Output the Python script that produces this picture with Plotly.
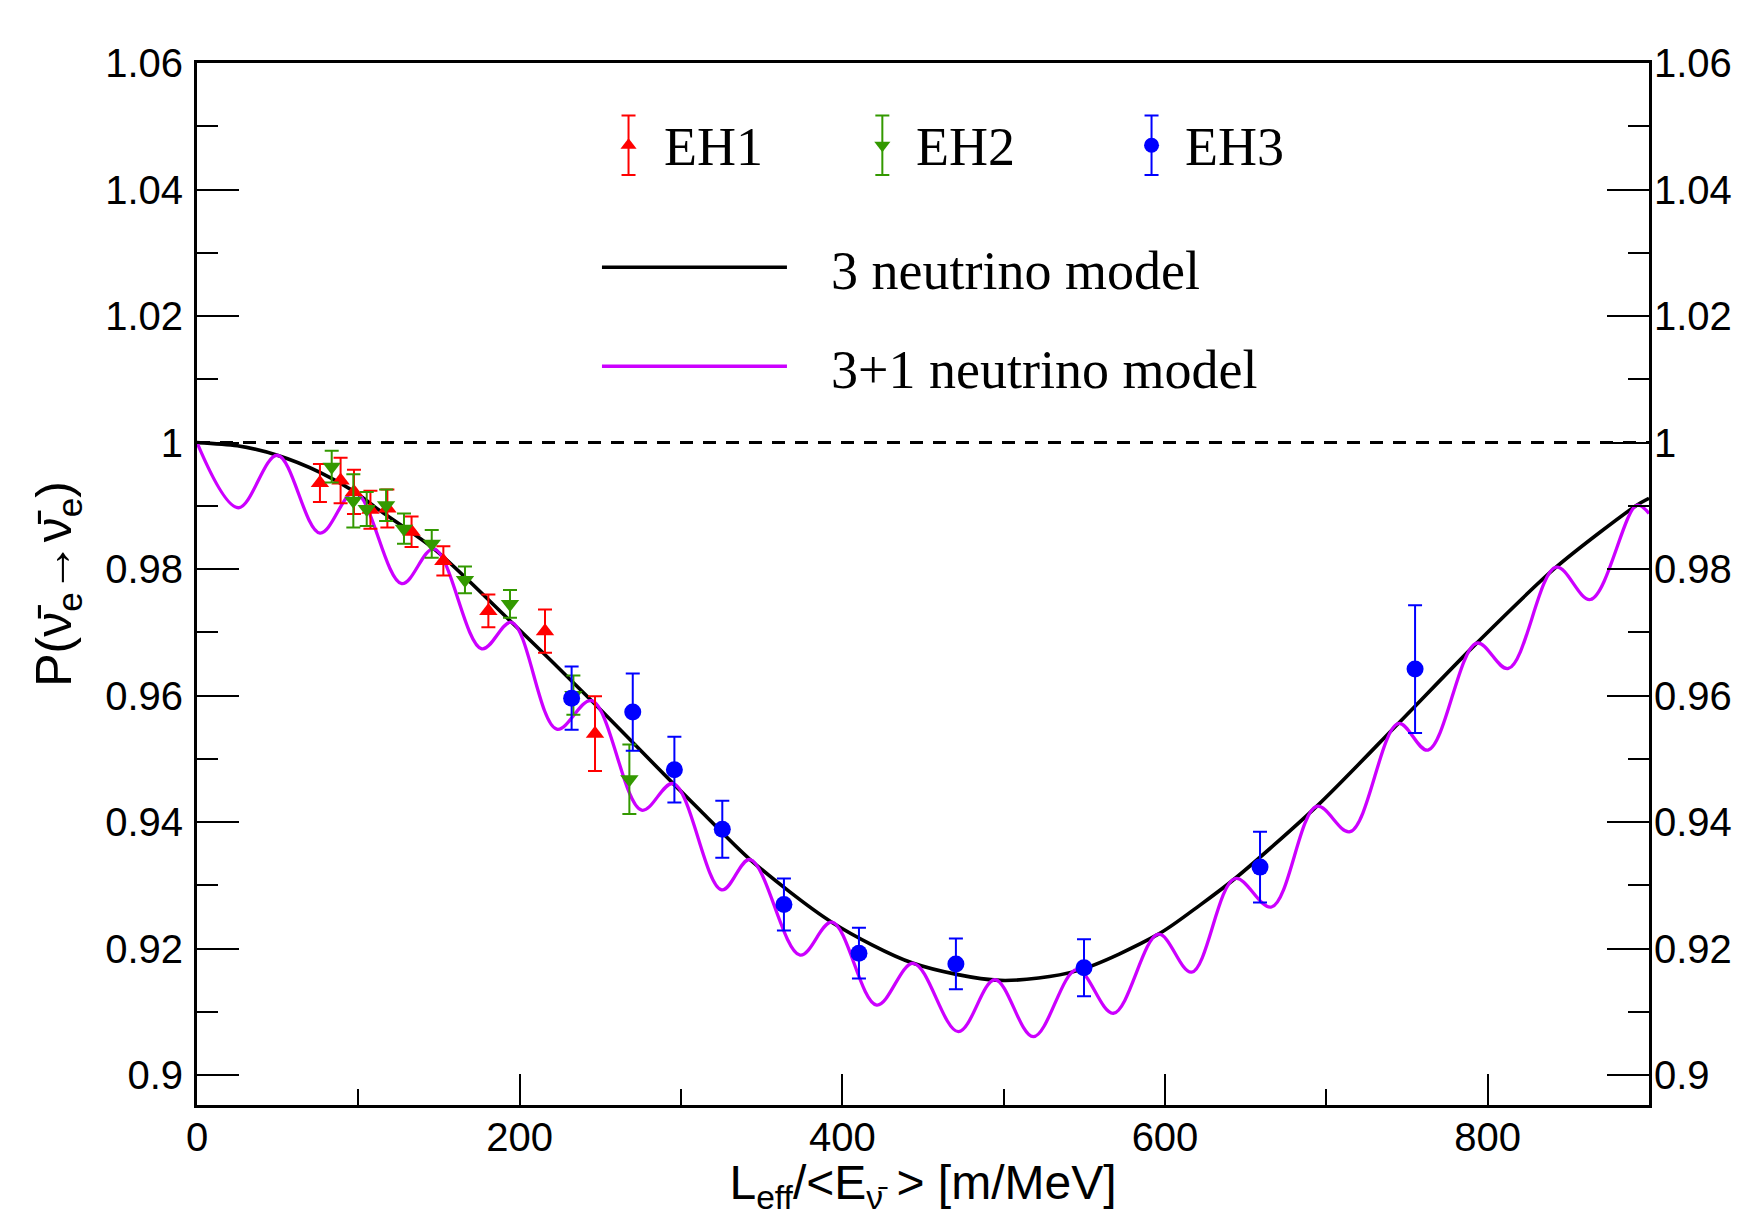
import plotly.graph_objects as go

# ---------------- data ----------------
eh1_L = [76.2, 89.0, 97.3, 107.5, 118.0, 133.0, 152.7, 180.6, 215.7, 246.7]
eh1_P = [0.9936, 0.9940, 0.9922, 0.9894, 0.9896, 0.9859, 0.9813, 0.9734, 0.9702, 0.9540]
eh1_err = [0.0030, 0.0036, 0.0035, 0.0030, 0.0030, 0.0024, 0.0023, 0.0026, 0.0034, 0.0059]

eh2_L = [83.5, 96.9, 105.2, 117.2, 128.3, 145.5, 166.1, 194.0, 233.3, 268.0]
eh2_P = [0.9962, 0.9908, 0.9895, 0.9901, 0.9864, 0.9840, 0.9783, 0.9745, 0.9601, 0.9468]
eh2_err = [0.0025, 0.0042, 0.0027, 0.0025, 0.0024, 0.0022, 0.0021, 0.0022, 0.0031, 0.0055]

eh3_L = [232.2, 270.1, 295.9, 325.6, 363.8, 410.3, 470.4, 549.8, 658.9, 755.0]
eh3_P = [0.9596, 0.9574, 0.9483, 0.9389, 0.9270, 0.9193, 0.9176, 0.9170, 0.9329, 0.9642]
eh3_err = [0.0050, 0.0061, 0.0052, 0.0045, 0.0041, 0.0040, 0.0040, 0.0045, 0.0056, 0.0101]

model3_L = [0, 25, 49.8, 76.2, 97.9, 111.4, 146.9, 195.0, 244.6, 295.2, 311.8, 342.8,
            393.4, 444.0, 497.7, 545.3, 595.9, 621.7, 643.4, 694.0, 744.6, 793.2,
            842.4, 892.4, 900]
model3_P = [1.0000, 0.9995, 0.9980, 0.9953, 0.9922, 0.9896, 0.9832, 0.9716, 0.9592,
            0.9461, 0.9419, 0.9341, 0.9242, 0.9177, 0.9150, 0.9165, 0.9223, 0.9269,
            0.9311, 0.9425, 0.9556, 0.9683, 0.9803, 0.9901, 0.9912]

model31_L = [0, 25.6, 49.8, 76.2, 97.9, 126.9, 146.9, 176.5, 195.0, 223.0, 244.6,
             275.6, 295.2, 325.2, 342.8, 373.8, 393.6, 421.3, 444.0, 471.9, 494.6,
             518.4, 545.3, 568.0, 595.9, 616.5, 643.4, 666.0, 694.0, 714.7, 744.6,
             763.0, 793.2, 812.8, 842.4, 863.7, 892.4, 900]
model31_P = [1.0000, 0.9897, 0.9980, 0.9857, 0.9922, 0.9777, 0.9832, 0.9674, 0.9716,
             0.9547, 0.9592, 0.9419, 0.9461, 0.9293, 0.9341, 0.9190, 0.9242, 0.9111,
             0.9177, 0.9069, 0.9151, 0.9061, 0.9167, 0.9098, 0.9223, 0.9163, 0.9311,
             0.9266, 0.9425, 0.9385, 0.9556, 0.9514, 0.9683, 0.9643, 0.9803, 0.9752,
             0.9901, 0.9888]

unity = 1.0
x_ticks = [0, 200, 400, 600, 800]
y_ticks = [0.90, 0.92, 0.94, 0.96, 0.98, 1.00, 1.02, 1.04, 1.06]
y_ticktext = ["0.9", "0.92", "0.94", "0.96", "0.98", "1", "1.02", "1.04", "1.06"]
x_range = [0, 900]
y_range = [0.8953, 1.06]

RED = "#ff0000"
GREEN = "#339900"
BLUE = "#0000ff"
MAGENTA = "#cc00ff"
SANS = "Liberation Sans, Arial, sans-serif"
SERIF = "Liberation Serif, Times New Roman, serif"

fig = go.Figure()

# unity reference (dashed)
fig.add_hline(y=unity, line=dict(color="black", width=3, dash="13px,10px"), layer="above")

# models
fig.add_trace(go.Scatter(x=model3_L, y=model3_P, mode="lines", name="3 neutrino model",
                         line=dict(color="black", width=3.6, shape="spline", smoothing=0.8),
                         showlegend=False))
fig.add_trace(go.Scatter(x=model31_L, y=model31_P, mode="lines", name="3+1 neutrino model",
                         line=dict(color=MAGENTA, width=3.3, shape="spline", smoothing=1.0),
                         showlegend=False))

def err_series(L, P, E, color, symbol, size, name):
    return go.Scatter(x=L, y=P, mode="markers", name=name, showlegend=False,
                      marker=dict(color=color, symbol=symbol, size=size, line=dict(width=0)),
                      error_y=dict(type="data", array=E, visible=True, color=color,
                                   thickness=2, width=7))

fig.add_trace(err_series(eh1_L, eh1_P, eh1_err, RED, "triangle-up", 16, "EH1"))
fig.add_trace(err_series(eh2_L, eh2_P, eh2_err, GREEN, "triangle-down", 16, "EH2"))
fig.add_trace(err_series(eh3_L, eh3_P, eh3_err, BLUE, "circle", 17, "EH3"))

# right-hand axis carrier
fig.add_trace(go.Scatter(x=[None], y=[None], yaxis="y2", showlegend=False, hoverinfo="skip"))

# ---------------- legend (drawn by hand, ROOT style) ----------------
leg_items = [("EH1", RED, "triangle-up", 0.2972, 0.3200),
             ("EH2", GREEN, "triangle-down", 0.4720, 0.4941),
             ("EH3", BLUE, "circle", 0.6574, 0.6788)]
leg_row_y = 0.921
for name, col, sym, gx, tx in leg_items:
    fig.add_trace(go.Scatter(x=[gx], y=[leg_row_y], xaxis="x3", yaxis="y3", mode="markers",
                             showlegend=False, hoverinfo="skip",
                             marker=dict(color=col, symbol=sym, size=14 if sym != "circle" else 15),
                             error_y=dict(type="constant", value=0.0285, color=col,
                                          thickness=2, width=7)))
    fig.add_annotation(x=tx, y=leg_row_y - 0.002, xref="paper", yref="paper", text=name,
                       showarrow=False, xanchor="left", yanchor="middle",
                       font=dict(family=SERIF, size=54, color="black"))

for label, col, ly in [("3 neutrino model", "black", 0.804), ("3+1 neutrino model", MAGENTA, 0.709)]:
    fig.add_shape(type="line", xref="paper", yref="paper", x0=0.2789, x1=0.4063, y0=ly, y1=ly,
                  line=dict(color=col, width=3.5))
    fig.add_annotation(x=0.4353, y=ly - 0.004, xref="paper", yref="paper", text=label,
                       showarrow=False, xanchor="left", yanchor="middle",
                       font=dict(family=SERIF, size=54, color="black"))

tickfont = dict(family=SANS, size=40, color="black")

fig.update_layout(
    width=1738, height=1216,
    margin=dict(l=197, r=89, t=63, b=111, autoexpand=False),
    paper_bgcolor="white", plot_bgcolor="white",
    showlegend=False,
    xaxis=dict(range=x_range, tickvals=x_ticks, ticks="inside", ticklen=31, tickwidth=2,
               tickcolor="black", showline=True, linewidth=3, linecolor="black", mirror=True,
               showgrid=False, zeroline=False, tickfont=tickfont, ticklabelstandoff=-5,
               minor=dict(dtick=100, tick0=0, ticks="inside", ticklen=16, tickwidth=2,
                          tickcolor="black", showgrid=False),
               title=dict(text="L<sub>eff</sub>/&lt;E<sub>ν\u0304</sub> &gt; [m/MeV]",
                          font=dict(family=SANS, size=48, color="black"), standoff=0)),
    yaxis=dict(range=y_range, tickvals=y_ticks, ticktext=y_ticktext, ticks="inside",
               ticklen=42, tickwidth=2, tickcolor="black", showline=True, linewidth=3,
               linecolor="black", showgrid=False, zeroline=False, tickfont=tickfont,
               ticklabelstandoff=3,
               minor=dict(dtick=0.01, tick0=0.9, ticks="inside", ticklen=21, tickwidth=2,
                          tickcolor="black", showgrid=False),
               title=dict(text="P(ν\u0304<sub>e</sub>→ν\u0304<sub>e</sub>)",
                          font=dict(family=SANS, size=50, color="black"), standoff=18)),
    yaxis2=dict(overlaying="y", side="right", matches="y", range=y_range, tickvals=y_ticks,
                ticktext=y_ticktext, ticks="inside", ticklen=42, tickwidth=2, tickcolor="black",
                showline=True, linewidth=3, linecolor="black", showgrid=False, zeroline=False,
                tickfont=tickfont, ticklabelstandoff=-6,
                minor=dict(dtick=0.01, tick0=0.9, ticks="inside", ticklen=21, tickwidth=2,
                           tickcolor="black", showgrid=False)),
    xaxis3=dict(overlaying="x", range=[0, 1], visible=False),
    yaxis3=dict(overlaying="y", range=[0, 1], visible=False),
)

fig.write_html("out.html", config={"displayModeBar": False},
               post_script="document.body.style.margin='0px';")
